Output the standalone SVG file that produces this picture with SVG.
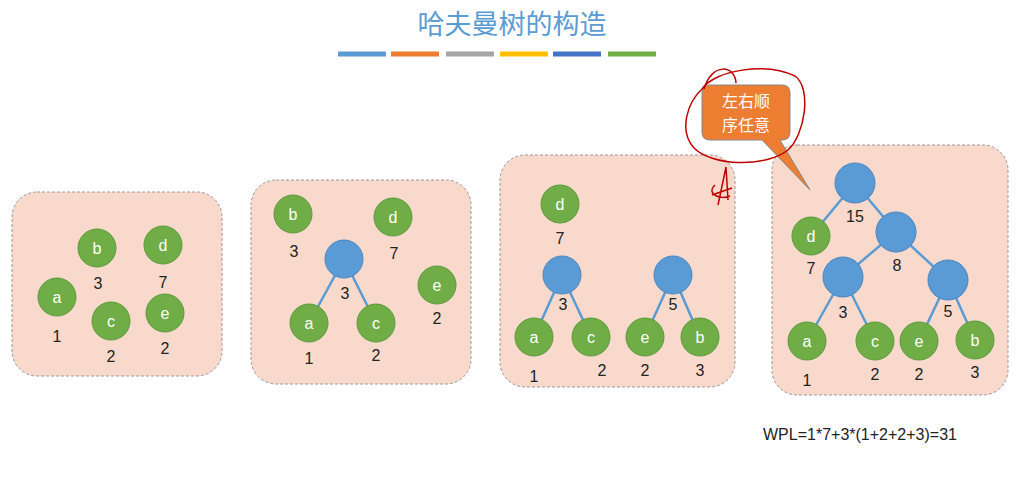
<svg xmlns="http://www.w3.org/2000/svg" width="1024" height="480" viewBox="0 0 1024 480">
<style>
.p{fill:#F8D9CB;stroke:#999;stroke-dasharray:3 2;stroke-width:1}
.g{fill:#70AD47;stroke:#5a9a3a;stroke-width:1}
.b{fill:#5B9BD5;stroke:#4a86c0;stroke-width:1}
.e{stroke:#5B9BD5;stroke-width:2.5;fill:none}
.l{font-family:"Liberation Sans",Arial,sans-serif;font-size:16px;fill:#fff;text-anchor:middle}
.w{font-family:"Liberation Sans",Arial,sans-serif;font-size:16px;fill:#222;text-anchor:middle}
</style>
<rect width="1024" height="480" fill="#fff"/>
<text x="512" y="34" font-family="Noto Sans CJK SC,sans-serif" font-size="27" fill="#5B9BD5" text-anchor="middle">哈夫曼树的构造</text>
<g id="bars" stroke-width="5">
<line x1="338" y1="54" x2="386" y2="54" stroke="#5B9BD5"/><line x1="391" y1="54" x2="439" y2="54" stroke="#ED7D31"/><line x1="446" y1="54" x2="494" y2="54" stroke="#A5A5A5"/><line x1="500" y1="54" x2="548" y2="54" stroke="#FFC000"/><line x1="553" y1="54" x2="601" y2="54" stroke="#4472C4"/><line x1="608" y1="54" x2="656" y2="54" stroke="#70AD47"/>
</g>
<rect class="p" x="12" y="192" width="210" height="184" rx="25"/>
<rect class="p" x="251" y="180" width="220" height="204" rx="25"/>
<rect class="p" x="500" y="155" width="235" height="232" rx="25"/>
<rect class="p" x="772" y="145" width="236" height="250" rx="25"/>
<g id="connectors">
<path class="e" d="M344 259L309 323M344 259L376 323"/>
<path class="e" d="M562 275L534 337M562 275L591 337M673 275L645 337M673 275L700 337"/>
<path class="e" d="M855 183L811 236M855 183L896 232M896 232L843 277M896 232L948 280M843 277L807 341M843 277L875 341M948 280L919 341M948 280L975 340"/>
</g>
<g id="p1">
<circle class="g" cx="97" cy="248" r="19"/><text class="l" x="97" y="254">b</text><text class="w" x="98" y="289">3</text>
<circle class="g" cx="163" cy="245" r="19"/><text class="l" x="163" y="251">d</text><text class="w" x="163" y="288">7</text>
<circle class="g" cx="57" cy="297" r="19"/><text class="l" x="57" y="303">a</text><text class="w" x="57" y="342">1</text>
<circle class="g" cx="111" cy="321" r="19"/><text class="l" x="111" y="327">c</text><text class="w" x="111" y="362">2</text>
<circle class="g" cx="165" cy="313" r="19"/><text class="l" x="165" y="319">e</text><text class="w" x="165" y="354">2</text>
</g>
<g id="p2">
<circle class="g" cx="293" cy="214" r="19"/><text class="l" x="293" y="220">b</text><text class="w" x="294" y="257">3</text>
<circle class="g" cx="393" cy="217" r="19"/><text class="l" x="393" y="223">d</text><text class="w" x="394" y="259">7</text>
<circle class="b" cx="344" cy="259" r="19"/><text class="w" x="345" y="299">3</text>
<circle class="g" cx="309" cy="323" r="19"/><text class="l" x="309" y="329">a</text><text class="w" x="309" y="364">1</text>
<circle class="g" cx="376" cy="323" r="19"/><text class="l" x="376" y="329">c</text><text class="w" x="376" y="361">2</text>
<circle class="g" cx="437" cy="285" r="19"/><text class="l" x="437" y="291">e</text><text class="w" x="437" y="324">2</text>
</g>
<g id="p3">
<circle class="g" cx="560" cy="204" r="19"/><text class="l" x="560" y="210">d</text><text class="w" x="560" y="244">7</text>
<circle class="b" cx="562" cy="275" r="19"/><text class="w" x="563" y="310">3</text>
<circle class="b" cx="673" cy="275" r="19"/><text class="w" x="673" y="310">5</text>
<circle class="g" cx="534" cy="337" r="19"/><text class="l" x="534" y="343">a</text><text class="w" x="534" y="382">1</text>
<circle class="g" cx="591" cy="337" r="19"/><text class="l" x="591" y="343">c</text><text class="w" x="602" y="376">2</text>
<circle class="g" cx="645" cy="337" r="19"/><text class="l" x="645" y="343">e</text><text class="w" x="645" y="376">2</text>
<circle class="g" cx="700" cy="337" r="19"/><text class="l" x="700" y="343">b</text><text class="w" x="700" y="376">3</text>
</g>
<g id="p4">
<circle class="b" cx="855" cy="183" r="20"/><text class="w" x="855" y="222">15</text>
<circle class="g" cx="811" cy="236" r="19"/><text class="l" x="811" y="242">d</text><text class="w" x="811" y="274">7</text>
<circle class="b" cx="896" cy="232" r="20"/><text class="w" x="897" y="271">8</text>
<circle class="b" cx="843" cy="277" r="20"/><text class="w" x="843" y="318">3</text>
<circle class="b" cx="948" cy="280" r="20"/><text class="w" x="948" y="317">5</text>
<circle class="g" cx="807" cy="341" r="19"/><text class="l" x="807" y="347">a</text><text class="w" x="807" y="386">1</text>
<circle class="g" cx="875" cy="341" r="19"/><text class="l" x="875" y="347">c</text><text class="w" x="875" y="380">2</text>
<circle class="g" cx="919" cy="341" r="19"/><text class="l" x="919" y="347">e</text><text class="w" x="919" y="380">2</text>
<circle class="g" cx="975" cy="340" r="19"/><text class="l" x="975" y="346">b</text><text class="w" x="975" y="378">3</text>
</g>
<g id="callout">
<path d="M710 85H782Q790 85 790 93V132Q790 140 782 140H780L810 190L762 140H710Q702 140 702 132V93Q702 85 710 85Z" fill="#ED7D31" stroke="#888" stroke-width="1"/>
<text x="746" y="107" font-family="Noto Sans CJK SC,sans-serif" font-size="16" fill="#fff" text-anchor="middle">左右顺</text>
<text x="746" y="131" font-family="Noto Sans CJK SC,sans-serif" font-size="16" fill="#fff" text-anchor="middle">序任意</text>
</g>
<g id="ink" fill="none" stroke="#C00000" stroke-width="1.5">
<path d="M702 89C715 70 765 62 795 76C812 88 805 135 788 150C765 168 712 166 694 148C678 130 688 102 702 89"/>
<path d="M704 89C712 62 735 65 736 83"/>
<path d="M726 167L718 205M726 167L728 200M715 185C705 195 722 200 730 196M712 195L732 188"/>
</g>
<text x="763" y="440" font-family="Liberation Sans,Arial,sans-serif" font-size="16" fill="#222">WPL=1*7+3*(1+2+2+3)=31</text>
</svg>
